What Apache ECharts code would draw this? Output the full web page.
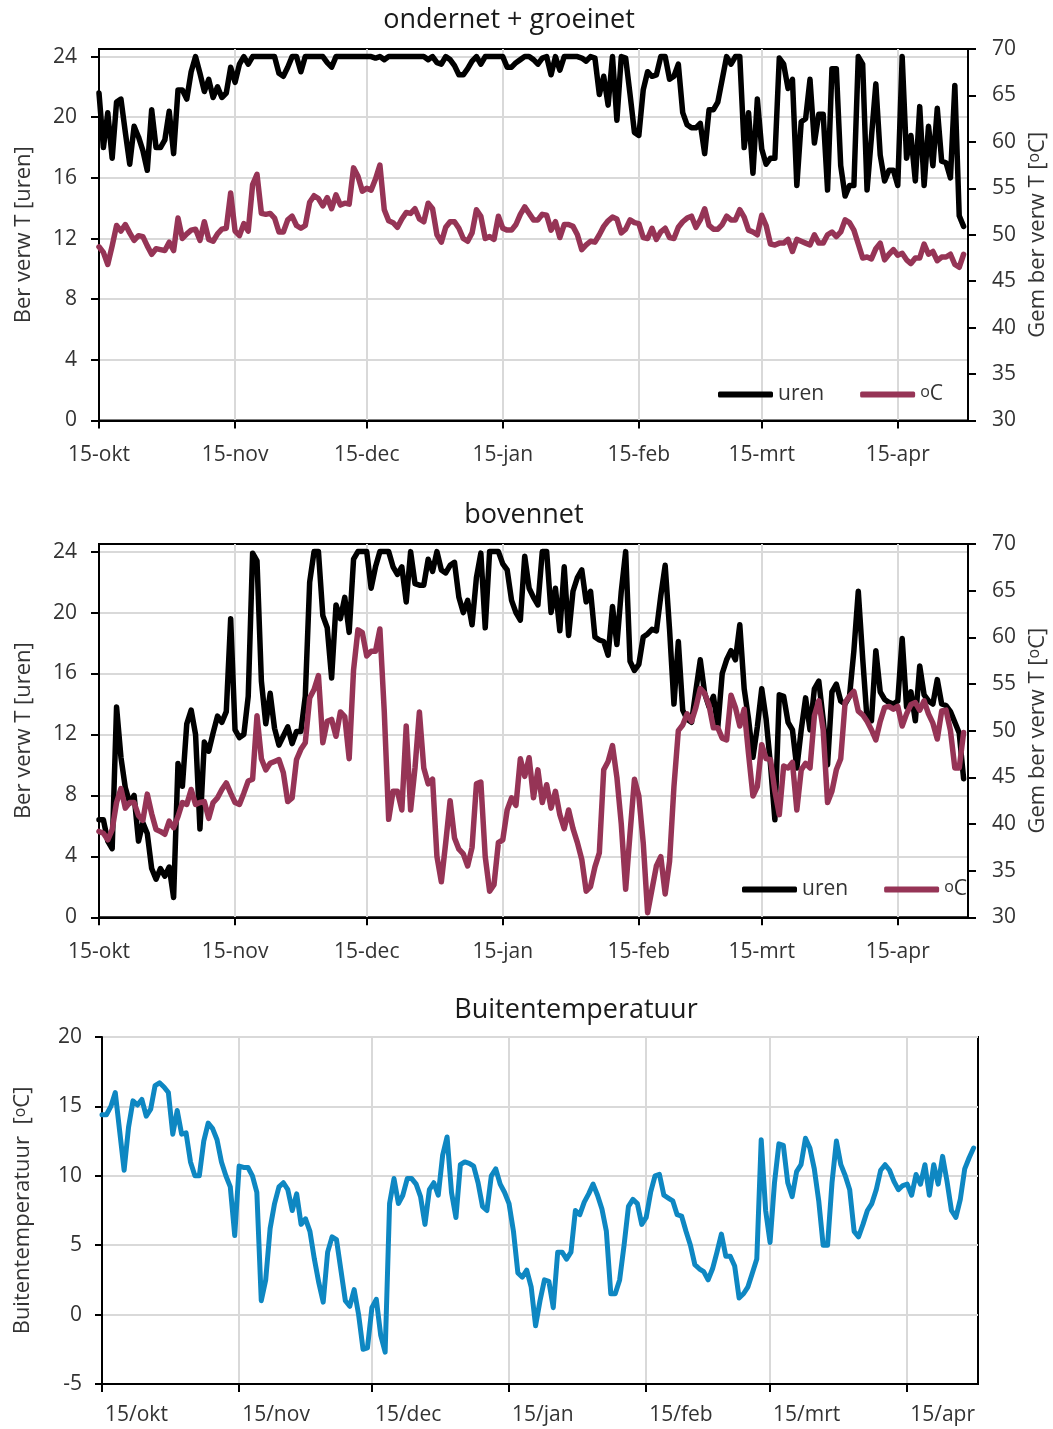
<!DOCTYPE html>
<html>
<head>
<meta charset="utf-8">
<script src="https://cdn.jsdelivr.net/npm/echarts@6/dist/echarts.min.js"></script>
<style>html,body{margin:0;padding:0;background:#fff}#c{width:1053px;height:1429px}</style>
</head>
<body>
<div id="c"></div>
<script>
// ---- data (daily, day 0 = 15 okt) ----
const dayTicks = [0, 31, 61, 92, 123, 151, 182];
const dashLabels = ['15-okt', '15-nov', '15-dec', '15-jan', '15-feb', '15-mrt', '15-apr'];
const slashLabels = ['15/okt', '15/nov', '15/dec', '15/jan', '15/feb', '15/mrt', '15/apr'];
const urenTicks = [0, 4, 8, 12, 16, 20, 24];

const titleTop = 'ondernet + groeinet';
const titleMid = 'bovennet';
const titleBottom = 'Buitentemperatuur';

// ondernet + groeinet: hours
const uren1 = [
  21.6,18.0,20.3,17.3,21.0,21.2,19.0,16.9,19.4,18.7,
  17.8,16.5,20.5,18.0,18.0,18.5,20.4,17.6,21.8,21.8,
  21.2,23.0,24.0,22.9,21.7,22.5,21.3,22.0,21.3,21.6,
  23.3,22.3,23.5,24.0,23.5,24,24,24,24,24,
  24,22.9,22.7,23.3,24,24,23.0,24,24,24,
  24,24,23.6,23.3,24,24,24,24,24,24,
  24,24,24,23.9,24,23.8,24,24,24,24,
  24,24,24,24,24,23.8,24,23.6,23.5,24,
  23.8,23.4,22.8,22.8,23.2,23.7,24,23.5,24,24,
  24,24,24,23.3,23.3,23.6,23.8,24,24,23.8,
  23.5,23.9,24,22.8,24,23.1,24,24,24,24,
  23.9,23.7,24,23.9,21.5,22.7,20.8,24,19.8,24,
  23.9,21.5,19.0,18.8,21.8,23.0,22.7,22.8,24,24,
  22.5,22.7,23.5,20.3,19.5,19.3,19.3,19.6,17.6,20.5,
  20.5,21.0,22.5,24,23.5,24,24,18.0,20.3,16.3,
  21.2,17.9,16.9,17.3,17.3,23.9,23.5,21.9,22.5,15.5,
  19.7,19.9,22.5,18.3,20.2,20.2,15.2,23.2,23.2,16.8,
  14.8,15.5,15.5,24,23.5,15.2,18.7,22.2,17.5,15.8,
  16.5,16.5,15.5,24,17.3,18.8,15.8,20.7,15.5,19.4,
  16.8,20.6,17.1,17.0,16.0,22.1,13.5,12.8
];
// ondernet + groeinet: mean temperature
const graden1 = [
  48.7,48.1,46.8,48.8,51.0,50.4,51.1,50.2,49.4,49.9,
  49.8,48.8,47.9,48.5,48.4,48.3,49.2,48.3,51.8,49.6,
  50.1,50.5,50.6,49.4,51.4,49.5,49.3,50.1,50.6,50.7,
  54.5,50.4,49.9,51.2,50.4,55.4,56.5,52.3,52.2,52.3,
  51.8,50.3,50.3,51.6,52.0,51.0,50.7,51.0,53.5,54.2,
  53.9,53.1,54.0,52.8,54.3,53.2,53.4,53.3,57.2,56.3,
  54.7,55.0,54.8,56.0,57.5,52.7,51.5,51.3,50.8,51.7,
  52.4,52.3,52.8,51.7,51.4,53.4,52.8,50.0,49.2,50.8,
  51.4,51.4,50.7,49.6,49.3,50.2,52.7,52.0,49.6,49.8,
  49.5,52.0,50.7,50.5,50.5,51.1,52.2,53.0,52.3,51.6,
  51.6,52.2,52.1,50.5,51.4,49.7,51.1,51.1,50.9,50.0,
  48.4,48.9,49.3,49.2,50.0,50.9,51.5,51.9,51.7,50.2,
  50.6,51.6,51.3,51.2,49.7,49.6,50.7,49.5,50.3,50.7,
  49.7,49.6,50.8,51.4,51.8,52.0,50.8,51.6,52.8,51.0,
  50.6,50.6,51.1,52.0,51.6,51.6,52.7,51.9,50.5,50.3,
  50.0,52.1,51.0,49.0,48.9,49.1,49.1,49.5,48.2,49.5,
  49.3,49.1,48.9,50.0,49.1,49.1,50.0,50.3,49.8,50.3,
  51.6,51.3,50.5,49.0,47.5,47.6,47.4,48.5,49.1,47.3,
  47.9,48.4,47.8,48.0,47.3,46.9,47.5,47.5,49.0,47.9,
  48.2,47.2,47.6,47.6,47.9,46.8,46.5,47.9
];
// bovennet: hours
const uren2 = [
  6.4,6.4,5.0,4.5,13.8,10.5,8.5,7.5,8.0,5.0,
  6.2,5.5,3.2,2.5,3.2,2.7,3.3,1.3,10.1,8.6,
  12.7,13.6,12.0,5.8,11.5,10.9,12.1,13.2,12.8,13.5,
  19.6,12.3,11.8,12.0,14.5,23.9,23.4,15.5,12.7,14.7,
  12.4,11.3,11.9,12.5,11.4,12.2,12.2,14.5,22.0,24.0,
  24.0,19.8,19.0,15.7,20.5,19.6,21.0,18.7,23.5,24,
  24,24,21.6,23.0,24,24,24,23.0,22.5,23.0,
  20.7,24,21.9,21.8,21.8,23.5,22.7,24,22.8,22.6,
  23.1,23.3,21.0,20.0,20.8,19.2,22.3,23.9,19.0,24,
  24,24,23.2,22.8,20.8,20.0,19.5,23.7,21.6,21.0,
  20.5,24,24,20.0,21.6,18.8,23.0,18.5,21.4,22.3,
  22.8,20.7,21.4,18.4,18.2,18.1,17.2,20.4,17.9,21.4,
  24,16.8,16.2,16.6,18.4,18.6,18.9,18.8,21.1,23.1,
  18.9,14.0,18.1,13.6,13.0,12.8,14.9,16.9,14.7,13.8,
  14.5,12.5,16.0,16.9,17.5,16.9,19.2,15.0,13.0,10.5,
  12.5,15.0,13.0,10.0,6.4,14.6,14.5,12.8,12.3,9.8,
  12.3,14.4,12.3,15.0,15.5,13.0,10.0,14.8,15.3,14.2,
  14.0,14.5,17.5,21.4,17.0,13.0,12.9,17.5,14.8,14.3,
  14.1,14.0,14.2,18.3,13.8,14.8,12.9,16.5,14.6,14.2,
  14.0,15.6,14.0,13.9,13.5,12.8,12.1,9.1
];
// bovennet: mean temperature
const graden2 = [
  39.2,39.0,38.3,39.4,42.3,43.8,41.7,42.3,42.3,40.9,
  40.4,43.2,41.1,39.4,39.2,38.9,40.3,39.6,40.8,42.3,
  42.1,43.7,42.1,42.3,42.4,40.6,42.3,42.8,43.7,44.4,
  43.3,42.3,42.1,43.3,44.6,44.8,51.6,47.0,45.8,46.5,
  46.7,46.9,45.5,42.4,42.8,46.9,48.0,48.7,53.5,54.4,
  55.9,48.7,51.0,51.2,49.4,52.0,51.5,47.0,56.5,60.8,
  60.5,58.0,58.5,58.5,60.9,52.0,40.5,43.5,43.5,41.5,
  50.5,41.5,46.0,52.0,46.0,44.3,44.8,36.5,33.8,38.0,
  42.5,38.5,37.3,36.8,35.5,37.5,44.3,44.5,36.5,32.8,
  33.5,38.0,38.3,41.5,42.8,42.0,47.0,45.1,47.1,42.8,
  45.8,42.3,44.2,41.7,43.5,41.0,39.5,41.5,39.5,38.0,
  36.2,32.8,33.3,35.4,36.9,45.8,46.7,48.4,45.0,40.0,
  33.0,39.0,44.8,43.0,38.0,30.5,33.0,35.5,36.5,32.5,
  36.0,44.0,50.0,50.6,51.8,51.0,52.5,54.5,54.0,52.7,
  50.3,50.3,49.2,49.0,53.8,52.5,50.5,52.3,47.5,43.0,
  44.0,48.5,47.0,46.9,43.5,41.0,46.2,46.0,46.6,41.5,
  45.8,46.5,46.0,51.6,53.2,50.1,42.3,43.5,45.8,47.0,
  53.0,53.7,54.2,52.1,51.7,51.0,50.1,49.0,51.0,52.5,
  52.6,52.3,52.6,50.5,51.8,52.8,53.0,52.2,53.2,51.8,
  50.8,49.1,52.1,52.2,50.0,46.0,46.0,49.8
];
// outside temperature
const buiten = [
  14.4,14.4,15.0,16.0,13.2,10.4,13.5,15.4,15.1,15.5,
  14.3,14.8,16.5,16.7,16.4,16.0,13.0,14.7,13.0,13.1,
  11.0,10.0,10.0,12.5,13.8,13.4,12.6,11.0,10.0,9.2,
  5.7,10.7,10.6,10.6,10.0,8.8,1.0,2.5,6.2,8.0,
  9.2,9.5,9.0,7.5,8.7,6.5,6.9,6.0,4.0,2.3,
  0.9,4.5,5.6,5.4,3.2,1.0,0.6,1.8,0.0,-2.5,
  -2.4,0.5,1.1,-1.5,-2.7,8.0,9.8,8.0,8.6,9.8,
  9.8,9.4,8.5,6.5,9.0,9.5,8.6,11.5,12.8,8.8,
  7.0,10.8,11.0,10.9,10.7,9.5,7.8,7.5,10.0,10.5,
  9.4,8.8,8.0,6.0,3.0,2.7,3.2,2.0,-0.8,1.0,
  2.5,2.4,0.5,4.5,4.5,4.0,4.5,7.5,7.2,8.1,
  8.7,9.4,8.6,7.6,6.0,1.5,1.5,2.5,5.0,7.8,
  8.3,8.0,6.5,7.0,8.8,10.0,10.1,8.6,8.4,8.2,
  7.2,7.1,6.0,5.0,3.6,3.3,3.1,2.5,3.3,4.5,
  5.8,4.2,4.2,3.5,1.2,1.5,2.0,3.0,4.0,12.6,
  7.5,5.2,9.5,12.3,12.2,9.5,8.5,10.3,10.8,12.7,
  12.0,10.5,8.2,5.0,5.0,9.5,12.5,10.8,10.0,9.0,
  6.0,5.6,6.5,7.5,8.0,9.0,10.4,10.8,10.4,9.6,
  9.0,9.3,9.4,8.6,10.1,9.4,10.8,8.6,10.8,9.4,
  11.4,9.6,7.5,7.0,8.3,10.5,11.3,12.0
];

// ---- styling ----
const FONT = "'Open Sans', sans-serif";
const TXT = '#333333';
const BLACK = '#000000';
const RED = '#963456';
const BLUE = '#0E87C2';
const axisLn = { color: '#000', width: 2 };
const gridLn = { color: '#d9d9d9', width: 2 };
const supRich = { sup: { fontSize: 16, verticalAlign: 'top', color: TXT, fontFamily: FONT } };
const nameStyle = { fontSize: 22, color: TXT, fontFamily: FONT, rich: supRich };

function makeX(gridIndex, labels, labelOpts) {
  return {
    type: 'value', gridIndex: gridIndex, min: 0, max: 198,
    axisLine: { show: true, onZero: false, lineStyle: axisLn },
    axisTick: { show: true, customValues: dayTicks, length: 8, lineStyle: axisLn },
    axisLabel: Object.assign({
      customValues: dayTicks,
      formatter: function (v) { const i = dayTicks.indexOf(v); return i >= 0 ? labels[i] : ''; },
      fontSize: 21, color: TXT, fontFamily: FONT, margin: 24
    }, labelOpts || {}),
    splitLine: { show: true, lineStyle: gridLn }
  };
}
function makeUren(gridIndex) {
  return {
    type: 'value', gridIndex: gridIndex, position: 'left', min: 0, max: 24.5,
    name: 'Ber verw T [uren]', nameLocation: 'middle', nameGap: 64, nameTextStyle: nameStyle,
    axisLine: { show: true, lineStyle: axisLn },
    axisTick: { show: true, customValues: urenTicks, length: 8, lineStyle: axisLn },
    axisLabel: { customValues: urenTicks, fontSize: 21, color: TXT, fontFamily: FONT, margin: 22 },
    splitLine: { show: true, lineStyle: gridLn }
  };
}
function makeTemp(gridIndex) {
  return {
    type: 'value', gridIndex: gridIndex, position: 'right', min: 30, max: 70, interval: 5,
    name: 'Gem ber verw T [{sup|o}C]', nameLocation: 'middle', nameGap: 58, nameTextStyle: nameStyle,
    axisLine: { show: true, lineStyle: axisLn },
    axisTick: { show: true, length: 8, lineStyle: axisLn },
    axisLabel: { fontSize: 21, color: TXT, fontFamily: FONT, margin: 24 },
    splitLine: { show: false }
  };
}
function line(name, xi, yi, data, color, width) {
  return {
    name: name, type: 'line', xAxisIndex: xi, yAxisIndex: yi,
    data: data.map(function (v, i) { return [i, v]; }),
    symbol: 'none', showSymbol: false, smooth: false, animation: false,
    color: color, itemStyle: { color: color },
    lineStyle: { color: color, width: width, cap: 'round', join: 'round' }
  };
}
function legend(left, top) {
  return {
    data: ['uren', 'ºC'], left: left, top: top, padding: 0, itemGap: 36,
    icon: 'roundRect', itemWidth: 55, itemHeight: 6, selectedMode: false,
    formatter: function (n) { return n === 'ºC' ? '{sup|o}C' : n; },
    textStyle: { fontSize: 21, color: TXT, fontFamily: FONT, rich: supRich }
  };
}
const gridBase = { show: true, borderColor: '#000', borderWidth: 2, backgroundColor: 'transparent', containLabel: false, outerBoundsMode: 'none' };

const option = {
  animation: false,
  backgroundColor: '#fff',
  grid: [
    Object.assign({ left: 99, top: 49, width: 869, height: 371.5 }, gridBase),
    Object.assign({ left: 99, top: 544, width: 869, height: 373.3 }, gridBase),
    Object.assign({ left: 102, top: 1037, width: 876, height: 347 }, gridBase)
  ],
  xAxis: [
    makeX(0, dashLabels),
    makeX(1, dashLabels),
    makeX(2, slashLabels, { align: 'left', padding: [0, 0, 0, 3], margin: 21 })
  ],
  yAxis: [
    makeUren(0), makeTemp(0), makeUren(1), makeTemp(1),
    {
      type: 'value', gridIndex: 2, position: 'left', min: -5, max: 20, interval: 5,
      name: 'Buitentemperatuur  [{sup|o}C]', nameLocation: 'middle', nameGap: 68, nameTextStyle: nameStyle,
      axisLine: { show: true, onZero: false, lineStyle: axisLn },
      axisTick: { show: true, length: 7, lineStyle: axisLn },
      axisLabel: { fontSize: 21, color: TXT, fontFamily: FONT, margin: 20 },
      splitLine: { show: true, lineStyle: gridLn }
    }
  ],
  legend: [legend(718, 384), legend(742, 879)],
  graphic: [
    { type: 'text', x: 509, y: 20, style: { text: titleTop, font: "27px 'Open Sans', sans-serif", fill: '#1a1a1a', textAlign: 'center', textVerticalAlign: 'middle' } },
    { type: 'text', x: 524, y: 515, style: { text: titleMid, font: "27px 'Open Sans', sans-serif", fill: '#1a1a1a', textAlign: 'center', textVerticalAlign: 'middle' } },
    { type: 'text', x: 576, y: 1010, style: { text: titleBottom, font: "27px 'Open Sans', sans-serif", fill: '#1a1a1a', textAlign: 'center', textVerticalAlign: 'middle' } }
  ],
  series: [
    line('uren', 0, 0, uren1, BLACK, 5.5),
    line('ºC', 0, 1, graden1, RED, 5.5),
    line('uren', 1, 2, uren2, BLACK, 5.5),
    line('ºC', 1, 3, graden2, RED, 5.5),
    line('Buitentemperatuur', 2, 4, buiten, BLUE, 5)
  ]
};
const chart = echarts.init(document.getElementById('c'), null, { renderer: 'canvas' });
chart.setOption(option);
</script>
</body>
</html>
